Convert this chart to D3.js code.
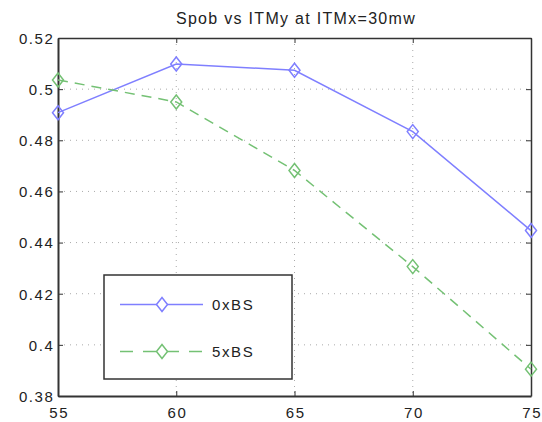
<!DOCTYPE html>
<html><head><meta charset="utf-8">
<script src="https://cdn.jsdelivr.net/npm/d3@7"></script>
<style>
body{margin:0;background:#fff;}
svg{display:block;font-family:"Liberation Sans",Arial,sans-serif;}
</style></head>
<body><svg id="c" width="542" height="422"></svg>
<script>
const xValues = [55, 60, 65, 70, 75];
const series0xBS = [0.4908, 0.5098, 0.5074, 0.4834, 0.4447];
const series5xBS = [0.5036, 0.4950, 0.4682, 0.4306, 0.3905];
const seriesNames = ["0xBS", "5xBS"];
const xTickLabels = ["55", "60", "65", "70", "75"];
const yTickValues = [0.38, 0.40, 0.42, 0.44, 0.46, 0.48, 0.50, 0.52];
const yTickLabels = ["0.38", "0.4", "0.42", "0.44", "0.46", "0.48", "0.5", "0.52"];
const title = "Spob vs ITMy at ITMx=30mw";

const svg = d3.select("#c");
const L = 58, R = 531, T = 38, B = 396;
const x = d3.scaleLinear().domain([55, 75]).range([L, R]);
const y = d3.scaleLinear().domain([0.38, 0.52]).range([B, T]);

const colors = ["#7f7fff", "#74c174"];
const dashes = [null, "10,7"];

// grid
const g = svg.append("g");
g.selectAll(".gx").data(xValues.slice(1, -1)).enter().append("line")
  .attr("x1", d => x(d)).attr("x2", d => x(d)).attr("y1", T).attr("y2", B)
  .attr("stroke", "#aaa").attr("stroke-width", 1).attr("stroke-dasharray", "1,5");
g.selectAll(".gy").data(yTickValues.slice(1, -1)).enter().append("line")
  .attr("y1", d => y(d)).attr("y2", d => y(d)).attr("x1", L).attr("x2", R)
  .attr("stroke", "#aaa").attr("stroke-width", 1).attr("stroke-dasharray", "1,5");

// axes (box with inward ticks)
const axB = svg.append("g").attr("transform", `translate(0,${B})`)
  .call(d3.axisBottom(x).tickValues(xValues).tickFormat((d, i) => xTickLabels[i]).tickSizeInner(-5).tickSizeOuter(0).tickPadding(11.5));
const axT = svg.append("g").attr("transform", `translate(0,${T})`)
  .call(d3.axisTop(x).tickValues(xValues).tickFormat("").tickSizeInner(-5).tickSizeOuter(0));
const axL = svg.append("g").attr("transform", `translate(${L},0)`)
  .call(d3.axisLeft(y).tickValues(yTickValues).tickFormat((d, i) => yTickLabels[i]).tickSizeInner(-5).tickSizeOuter(0).tickPadding(3.5));
const axR = svg.append("g").attr("transform", `translate(${R},0)`)
  .call(d3.axisRight(y).tickValues(yTickValues).tickFormat("").tickSizeInner(-5).tickSizeOuter(0));
[axB, axT, axL, axR].forEach(a => {
  a.select(".domain").attr("stroke", "#333").attr("stroke-width", 1.5);
  a.selectAll(".tick line").attr("stroke", "#333").attr("stroke-width", 1);
  a.selectAll("text").attr("fill", "#222").style("font-size", "15px").style("letter-spacing", "1.6px")
    .style("font-family", "'Liberation Sans',Arial,sans-serif");
});
axL.select(".domain").attr("stroke-width", 2);
axB.select(".domain").attr("stroke-width", 2);
axL.selectAll("text").attr("dy", "0.36em");
axB.selectAll("text").attr("dy", "0.71em").attr("dx", "0.8px");

// lines & markers
const line = d3.line().x((d, i) => x(xValues[i])).y(d => y(d));
const diamond = (cx, cy) => `M${cx},${cy - 7}L${cx + 5.5},${cy}L${cx},${cy + 7}L${cx - 5.5},${cy}Z`;
[series0xBS, series5xBS].forEach((s, k) => {
  svg.append("path").attr("d", line(s)).attr("fill", "none")
    .attr("stroke", colors[k]).attr("stroke-width", 1.5)
    .attr("stroke-dasharray", dashes[k]);
  svg.selectAll(null).data(s).enter().append("path")
    .attr("d", (d, i) => diamond(x(xValues[i]), y(d)))
    .attr("fill", "none").attr("stroke", colors[k]).attr("stroke-width", 1.5);
});

// title
svg.append("text").attr("x", 296).attr("y", 24).attr("text-anchor", "middle")
  .style("font-size", "16px").style("letter-spacing", "1.3px").attr("fill", "#222").text(title);

// legend
const lg = svg.append("g");
lg.append("rect").attr("x", 104).attr("y", 275).attr("width", 188).attr("height", 104)
  .attr("fill", "#fff").attr("stroke", "#333").attr("stroke-width", 1.5);
const ly = [304.5, 351.5];
seriesNames.forEach((n, k) => {
  lg.append("line").attr("x1", 120).attr("x2", 203).attr("y1", ly[k]).attr("y2", ly[k])
    .attr("stroke", colors[k]).attr("stroke-width", 1.5).attr("stroke-dasharray", k ? "13,10" : null);
  lg.append("path").attr("d", diamond(162, ly[k])).attr("fill", "#fff")
    .attr("stroke", colors[k]).attr("stroke-width", 1.5);
  lg.append("text").attr("x", 212).attr("y", ly[k]).attr("dy", "0.36em")
    .style("font-size", "15px").style("letter-spacing", "1.6px").attr("fill", "#222").text(n);
});
</script></body></html>
